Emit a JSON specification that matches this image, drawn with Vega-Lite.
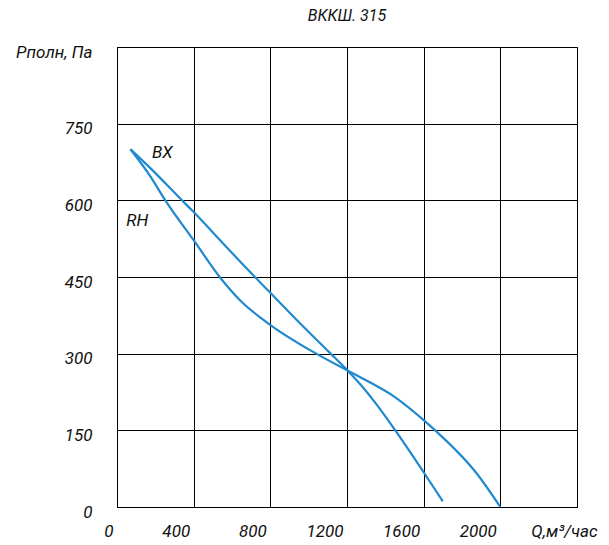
{
  "$schema": "https://vega.github.io/schema/vega-lite/v6.json",
  "autosize": {"type": "none"},
  "padding": {"left": 117, "top": 47, "right": 32, "bottom": 38},
  "width": 460,
  "height": 460,
  "title": {"text": "ВККШ. 315", "font": "Roboto", "fontStyle": "italic", "fontWeight": "normal", "fontSize": 16, "color": "#111111", "offset": 19, "anchor": "middle"},
  "config": {
    "view": {"stroke": "#000000", "strokeWidth": 1},
    "font": "Roboto"
  },
  "datasets": {
    "curves": [
      {"series": "BX", "Q": 70, "P": 700},
      {"series": "BX", "Q": 174, "P": 663},
      {"series": "BX", "Q": 339, "P": 600},
      {"series": "BX", "Q": 400, "P": 577},
      {"series": "BX", "Q": 550, "P": 517},
      {"series": "BX", "Q": 686, "P": 463},
      {"series": "BX", "Q": 800, "P": 419},
      {"series": "BX", "Q": 930, "P": 369},
      {"series": "BX", "Q": 1104, "P": 304},
      {"series": "BX", "Q": 1203, "P": 267},
      {"series": "BX", "Q": 1269, "P": 240},
      {"series": "BX", "Q": 1360, "P": 198},
      {"series": "BX", "Q": 1452, "P": 150},
      {"series": "BX", "Q": 1600, "P": 68},
      {"series": "BX", "Q": 1700, "P": 11},
      {"series": "RH", "Q": 70, "P": 700},
      {"series": "RH", "Q": 174, "P": 647},
      {"series": "RH", "Q": 252, "P": 600},
      {"series": "RH", "Q": 400, "P": 522},
      {"series": "RH", "Q": 542, "P": 447},
      {"series": "RH", "Q": 643, "P": 404},
      {"series": "RH", "Q": 790, "P": 359},
      {"series": "RH", "Q": 1035, "P": 301},
      {"series": "RH", "Q": 1203, "P": 267},
      {"series": "RH", "Q": 1269, "P": 254},
      {"series": "RH", "Q": 1450, "P": 215},
      {"series": "RH", "Q": 1600, "P": 170},
      {"series": "RH", "Q": 1660, "P": 150},
      {"series": "RH", "Q": 1878, "P": 65},
      {"series": "RH", "Q": 2000, "P": 0}
    ],
    "labels": [
      {"name": "BX", "Q": 236, "P": 693},
      {"name": "RH", "Q": 106, "P": 560}
    ]
  },
  "layer": [
    {
      "data": {"name": "curves"},
      "mark": {"type": "line", "interpolate": "monotone", "color": "#2089cf", "strokeWidth": 2.2},
      "encoding": {
        "x": {
          "field": "Q", "type": "quantitative",
          "scale": {"domain": [0, 2400], "nice": false, "zero": true},
          "axis": {
            "title": null,
            "values": [0, 400, 800, 1200, 1600, 2000, 2400],
            "format": "d",
            "labelExpr": "datum.value == 2400 ? 'Q,м³/час' : datum.label",
            "grid": true, "gridColor": "#000000", "gridOpacity": 1, "gridWidth": 1,
            "ticks": false,
            "domainColor": "#000000", "domainWidth": 1,
            "labelFont": "Roboto", "labelFontStyle": "italic", "labelFontSize": 17, "labelColor": "#111111",
            "labelBaseline": "top", "labelPadding": 16,
            "labelAlign": {"condition": {"test": "datum.value == 2400", "value": "center"}, "value": "right"},
            "labelOffset": {"condition": {"test": "datum.value == 2400", "value": -13}, "value": -4},
            "labelOverlap": false, "labelFlush": false, "labelBound": false
          }
        },
        "y": {
          "field": "P", "type": "quantitative",
          "scale": {"domain": [0, 900], "nice": false, "zero": true},
          "axis": {
            "title": null,
            "values": [0, 150, 300, 450, 600, 750, 900],
            "format": "d",
            "labelExpr": "datum.value == 900 ? 'Рполн, Па' : datum.label",
            "grid": true, "gridColor": "#000000", "gridOpacity": 1, "gridWidth": 1,
            "ticks": false,
            "domainColor": "#000000", "domainWidth": 1,
            "labelFont": "Roboto", "labelFontStyle": "italic", "labelFontSize": 17, "labelColor": "#111111",
            "labelAlign": "right", "labelBaseline": "middle", "labelPadding": 25,
            "labelOffset": 5,
            "labelOverlap": false, "labelFlush": false, "labelBound": false
          }
        },
        "detail": {"field": "series", "type": "nominal"}
      }
    },
    {
      "data": {"name": "labels"},
      "mark": {"type": "text", "font": "Roboto", "fontStyle": "italic", "fontSize": 17, "color": "#111111", "align": "center", "baseline": "middle"},
      "encoding": {
        "x": {"field": "Q", "type": "quantitative"},
        "y": {"field": "P", "type": "quantitative"},
        "text": {"field": "name", "type": "nominal"}
      }
    }
  ]
}
